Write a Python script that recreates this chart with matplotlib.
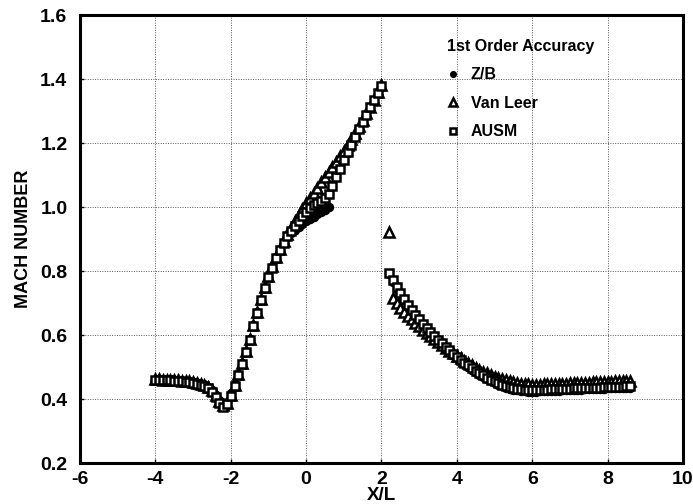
import matplotlib

matplotlib.use("Agg")
import matplotlib.pyplot as plt

# upstream part (before the shock)
X_UP = [-4.0, -3.9, -3.8, -3.7, -3.6, -3.5, -3.4, -3.3, -3.2, -3.1,
        -3.0, -2.9, -2.8, -2.7, -2.6, -2.5, -2.4, -2.3, -2.2, -2.1,
        -2.0, -1.9, -1.8, -1.7, -1.6, -1.5, -1.4, -1.3, -1.2, -1.1,
        -1.0, -0.9, -0.8, -0.7, -0.6, -0.5, -0.4, -0.3, -0.2, -0.1,
        0.0, 0.1, 0.2, 0.3, 0.4, 0.5, 0.6, 0.7, 0.8, 0.9,
        1.0, 1.1, 1.2, 1.3, 1.4, 1.5, 1.6, 1.7, 1.8, 1.9, 2.0]

ZB_UP = [0.460, 0.460, 0.460, 0.459, 0.459, 0.458, 0.457, 0.456, 0.455, 0.454,
         0.452, 0.450, 0.447, 0.443, 0.437, 0.428, 0.414, 0.398, 0.386, 0.392,
         0.418, 0.447, 0.478, 0.512, 0.548, 0.588, 0.630, 0.672, 0.711, 0.748,
         0.781, 0.810, 0.838, 0.864, 0.887, 0.905, 0.918, 0.929, 0.939, 0.948,
         0.956, 0.963, 0.970, 0.977, 0.985, 0.992, 1.000]

VL_UP = [0.462, 0.462, 0.461, 0.461, 0.460, 0.459, 0.458, 0.457, 0.456, 0.455,
         0.453, 0.451, 0.448, 0.444, 0.438, 0.429, 0.413, 0.395, 0.381, 0.387,
         0.414, 0.445, 0.477, 0.512, 0.549, 0.589, 0.631, 0.673, 0.713, 0.751,
         0.785, 0.815, 0.844, 0.870, 0.894, 0.915, 0.935, 0.955, 0.974, 0.993,
         1.012, 1.029, 1.045, 1.061, 1.077, 1.093, 1.108, 1.124, 1.141, 1.158,
         1.176, 1.194, 1.213, 1.232, 1.252, 1.272, 1.293, 1.314, 1.336, 1.358, 1.381]

AUSM_UP = [0.459, 0.459, 0.459, 0.458, 0.458, 0.457, 0.456, 0.455, 0.454, 0.452,
           0.450, 0.448, 0.445, 0.440, 0.433, 0.423, 0.407, 0.388, 0.376, 0.384,
           0.411, 0.442, 0.474, 0.509, 0.546, 0.586, 0.628, 0.670, 0.710, 0.747,
           0.781, 0.811, 0.840, 0.866, 0.889, 0.909, 0.926, 0.942, 0.957, 0.971,
           0.985, 0.997, 1.006, 1.013, 1.019, 1.027, 1.042, 1.067, 1.094, 1.120,
           1.146, 1.171, 1.195, 1.219, 1.243, 1.266, 1.289, 1.312, 1.334, 1.356, 1.378]

# downstream part (after the shock)
X_DN = [2.2, 2.3, 2.4, 2.5, 2.6, 2.7, 2.8, 2.9, 3.0, 3.1,
        3.2, 3.3, 3.4, 3.5, 3.6, 3.7, 3.8, 3.9, 4.0, 4.1,
        4.2, 4.3, 4.4, 4.5, 4.6, 4.7, 4.8, 4.9, 5.0, 5.1,
        5.2, 5.3, 5.4, 5.5, 5.6, 5.7, 5.8, 5.9, 6.0, 6.1,
        6.2, 6.3, 6.4, 6.5, 6.6, 6.7, 6.8, 6.9, 7.0, 7.1,
        7.2, 7.3, 7.4, 7.5, 7.6, 7.7, 7.8, 7.9, 8.0, 8.1,
        8.2, 8.3, 8.4, 8.5, 8.6]

ZB_DN = [0.790, 0.766, 0.745, 0.726, 0.708, 0.691, 0.675, 0.660, 0.646, 0.632,
         0.619, 0.606, 0.594, 0.582, 0.571, 0.560, 0.549, 0.539, 0.529, 0.519,
         0.510, 0.501, 0.492, 0.484, 0.476, 0.469, 0.462, 0.456, 0.450, 0.445,
         0.440, 0.436, 0.432, 0.429, 0.427, 0.425, 0.424, 0.423, 0.423, 0.423,
         0.424, 0.424, 0.425, 0.425, 0.426, 0.426, 0.427, 0.427, 0.428, 0.428,
         0.429, 0.429, 0.430, 0.430, 0.431, 0.431, 0.432, 0.432, 0.433, 0.433,
         0.434, 0.434, 0.435, 0.435, 0.436]

VL_DN = [0.922, 0.716, 0.700, 0.686, 0.673, 0.661, 0.649, 0.638, 0.627, 0.617,
         0.607, 0.597, 0.588, 0.578, 0.569, 0.560, 0.551, 0.543, 0.535, 0.527,
         0.519, 0.512, 0.505, 0.498, 0.492, 0.486, 0.480, 0.475, 0.470, 0.466,
         0.462, 0.458, 0.455, 0.452, 0.450, 0.448, 0.447, 0.446, 0.445, 0.445,
         0.445, 0.446, 0.446, 0.446, 0.447, 0.447, 0.448, 0.448, 0.449, 0.449,
         0.450, 0.450, 0.451, 0.451, 0.452, 0.452, 0.453, 0.453, 0.454, 0.454,
         0.455, 0.455, 0.456, 0.456, 0.457]

AUSM_DN = [0.795, 0.771, 0.750, 0.730, 0.712, 0.695, 0.679, 0.664, 0.649, 0.635,
           0.622, 0.609, 0.597, 0.585, 0.574, 0.563, 0.552, 0.542, 0.532, 0.523,
           0.514, 0.505, 0.497, 0.489, 0.481, 0.474, 0.467, 0.461, 0.455, 0.450,
           0.445, 0.441, 0.437, 0.434, 0.432, 0.430, 0.429, 0.428, 0.428, 0.428,
           0.428, 0.429, 0.429, 0.430, 0.430, 0.431, 0.431, 0.432, 0.432, 0.433,
           0.433, 0.434, 0.434, 0.435, 0.435, 0.436, 0.436, 0.437, 0.437, 0.438,
           0.438, 0.439, 0.439, 0.440, 0.440]

X_TICKS = [-6, -4, -2, 0, 2, 4, 6, 8, 10]
Y_TICKS = [0.2, 0.4, 0.6, 0.8, 1.0, 1.2, 1.4, 1.6]

plt.rcParams["font.family"] = ["Liberation Sans", "DejaVu Sans"]
plt.rcParams["font.weight"] = "bold"

fig = plt.figure(figsize=(6.93, 5.04), dpi=100)
ax = fig.add_axes([0.1154, 0.0813, 0.8702, 0.8889])

zb_x = X_UP[:len(ZB_UP)] + X_DN
zb_y = ZB_UP + ZB_DN
ax.plot(zb_x, zb_y, ls="none", marker="o", ms=5.8, mfc="black", mec="black",
        label="Z/B", zorder=3)
ax.plot(X_UP + X_DN, VL_UP + VL_DN, ls="none", marker="^", ms=7.8, mfc="white",
        mec="black", mew=1.8, label="Van Leer", zorder=4)
ax.plot(X_UP + X_DN, AUSM_UP + AUSM_DN, ls="none", marker="s", ms=6.4, mfc="white",
        mec="black", mew=1.8, label="AUSM", zorder=5)

ax.set_xlim(-6, 10)
ax.set_ylim(0.2, 1.6)
ax.set_xticks(X_TICKS)
ax.set_yticks(Y_TICKS)
ax.set_xticklabels([str(t) for t in X_TICKS])
ax.set_yticklabels([f"{t:.1f}" for t in Y_TICKS])
ax.tick_params(direction="in", length=3, width=1, labelsize=14, pad=6)
ax.tick_params(axis="y", pad=9)

ax.grid(True, ls=(0, (1, 1.5)), lw=0.7, color="0.35")
for spine in ax.spines.values():
    spine.set_linewidth(2.2)

ax.set_xlabel("X/L", fontsize=13.5, fontweight="bold", labelpad=-1)
ax.set_ylabel("MACH NUMBER", fontsize=13, fontweight="bold", labelpad=6)

leg = ax.legend(title="1st Order Accuracy", loc="upper left",
                bbox_to_anchor=(0.595, 0.965), frameon=False, borderpad=0,
                fontsize=11.5, title_fontproperties={"weight": "bold", "size": 11.5},
                handlelength=0.8, handletextpad=0.7, labelspacing=0.85,
                markerscale=0.7, alignment="left")

fig.savefig("out.png", dpi=100)
